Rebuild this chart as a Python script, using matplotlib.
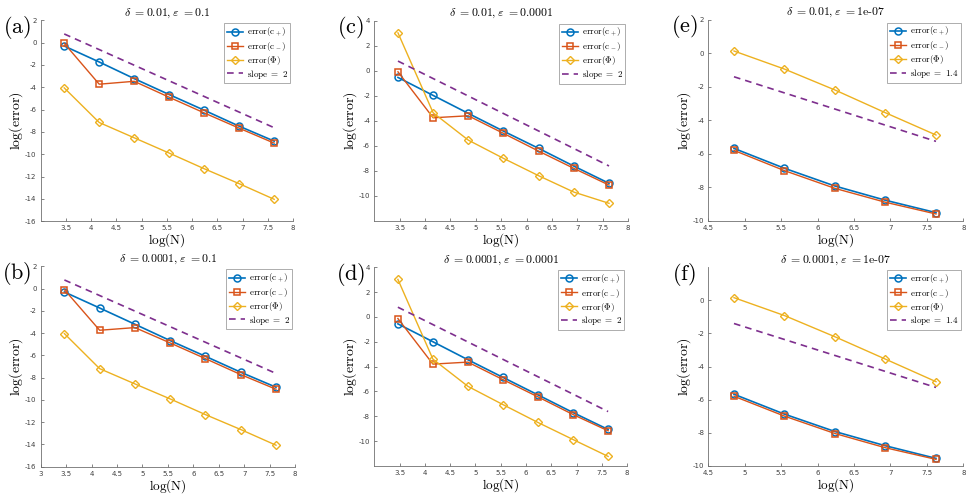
import matplotlib
matplotlib.use("Agg")
from matplotlib import pyplot as plt
import numpy as np

plt.rcParams['mathtext.fontset'] = 'cm'
plt.rcParams['font.family'] = 'DejaVu Sans'

# log(N) for N = 32 ... 2048 and N = 128 ... 2048
logN_full = [3.466, 4.159, 4.852, 5.545, 6.238, 6.931, 7.625]
logN_short = [4.852, 5.545, 6.238, 6.931, 7.625]

# panel (a): delta=0.01, eps=0.1
a_cplus = [-0.30, -1.73, -3.22, -4.65, -6.05, -7.48, -8.82]
a_cminus = [-0.06, -3.72, -3.46, -4.89, -6.29, -7.66, -9.00]
a_phi = [-4.05, -7.15, -8.52, -9.89, -11.29, -12.63, -14.03]

# panel (b): delta=0.0001, eps=0.1
b_cplus = [-0.30, -1.74, -3.20, -4.67, -6.08, -7.51, -8.86]
b_cminus = [-0.09, -3.74, -3.50, -4.88, -6.29, -7.72, -9.04]
b_phi = [-4.04, -7.19, -8.56, -9.91, -11.32, -12.66, -14.07]

# panel (c): delta=0.01, eps=0.0001
c_cplus = [-0.53, -1.97, -3.41, -4.83, -6.21, -7.63, -9.01]
c_cminus = [-0.08, -3.76, -3.60, -5.01, -6.43, -7.81, -9.15]
c_phi = [3.04, -3.36, -5.55, -7.01, -8.40, -9.71, -10.61]

# panel (d): delta=0.0001, eps=0.0001
d_cplus = [-0.56, -2.00, -3.45, -4.87, -6.28, -7.70, -9.06]
d_cminus = [-0.13, -3.80, -3.64, -5.05, -6.44, -7.86, -9.17]
d_phi = [3.02, -3.40, -5.59, -7.06, -8.50, -9.87, -11.23]

# panel (e): delta=0.01, eps=1e-07
e_cplus = [-5.68, -6.87, -7.93, -8.78, -9.52]
e_cminus = [-5.80, -7.01, -8.07, -8.90, -9.60]
e_phi = [0.14, -0.94, -2.19, -3.55, -4.88]

# panel (f): delta=0.0001, eps=1e-07
f_cplus = [-5.67, -6.87, -7.92, -8.78, -9.54]
f_cminus = [-5.79, -6.99, -8.04, -8.90, -9.60]
f_phi = [0.16, -0.92, -2.20, -3.55, -4.91]

# reference slope lines (end points)
slope2_x = [3.466, 7.625]
slope2_y = [0.78, -7.62]
slope14_x = [4.852, 7.625]
slope14_y = [-1.40, -5.26]

panels = [
    # letter, title, x, cplus, cminus, phi, slope x, slope y, slope label, xlim, xticks, ylim, yticks, rect
    ('(a)', r'$\delta\ {=}0.01, \varepsilon\ {=}0.1$', logN_full, a_cplus, a_cminus, a_phi,
     slope2_x, slope2_y, '2', (3, 8), np.arange(3.5, 8.01, 0.5), (-16, 2), np.arange(-16, 2.1, 2),
     [0.0419, 0.5547, 0.260, 0.4044]),
    ('(b)', r'$\delta\ {=}0.0001, \varepsilon\ {=}0.1$', logN_full, b_cplus, b_cminus, b_phi,
     slope2_x, slope2_y, '2', (3, 8), np.arange(3, 8.01, 0.5), (-16, 2), np.arange(-16, 2.1, 2),
     [0.0419, 0.0610, 0.262, 0.4030]),
    ('(c)', r'$\delta\ {=}0.01, \varepsilon\ {=}0.0001$', logN_full, c_cplus, c_cminus, c_phi,
     slope2_x, slope2_y, '2', (3, 8), np.arange(3.5, 8.01, 0.5), (-12, 4), np.arange(-10, 4.1, 2),
     [0.3855, 0.5560, 0.2613, 0.4020]),
    ('(d)', r'$\delta\ {=}0.0001, \varepsilon\ {=}0.0001$', logN_full, d_cplus, d_cminus, d_phi,
     slope2_x, slope2_y, '2', (3, 8), np.arange(3.5, 8.01, 0.5), (-12, 4), np.arange(-10, 4.1, 2),
     [0.3855, 0.0624, 0.2603, 0.4000]),
    ('(e)', r'$\delta\ {=}0.01, \varepsilon\ {=}\mathrm{1e\text{-}07}$', logN_short, e_cplus, e_cminus, e_phi,
     slope14_x, slope14_y, '1.4', (4.5, 8), np.arange(4.5, 8.01, 0.5), (-10, 2), np.arange(-10, 2.1, 2),
     [0.7295, 0.5560, 0.2626, 0.4040]),
    ('(f)', r'$\delta\ {=}0.0001, \varepsilon\ {=}\mathrm{1e\text{-}07}$', logN_short, f_cplus, f_cminus, f_phi,
     slope14_x, slope14_y, '1.4', (4.5, 8), np.arange(4.5, 8.01, 0.5), (-10, 2), np.arange(-10, 0.1, 2),
     [0.7295, 0.0624, 0.2626, 0.4000]),
]

blue = '#0072BD'
orange = '#D95319'
yellow = '#EDB120'
purple = '#7E2F8E'
axis_gray = '#707070'

fig = plt.figure(figsize=(9.71, 4.97), dpi=100)

for (letter, title, x, cp, cm, phi, sx, sy, slab, xlim, xticks, ylim, yticks, rect) in panels:
    ax = fig.add_axes(rect)
    ax.plot(x, cp, '-o', color=blue, lw=1.2, ms=5, mfc='none', mew=1.1, label=r'$\mathrm{error(c_+)}$')
    ax.plot(x, cm, '-s', color=orange, lw=1.0, ms=4.5, mfc='none', mew=1.1, label=r'$\mathrm{error(c_-)}$')
    ax.plot(x, phi, '-D', color=yellow, lw=1.0, ms=4.5, mfc='none', mew=1.0, label=r'$\mathrm{error(\Phi)}$')
    ax.plot(sx, sy, '--', color=purple, lw=1.2, dashes=(4, 3), label=r'$\mathrm{slope\ =\ ' + slab + '}$')

    ax.set_xlim(*xlim)
    ax.set_ylim(*ylim)
    ax.set_xticks(xticks)
    ax.set_yticks(yticks)
    ax.set_xticklabels([f'{t:g}' for t in xticks])
    ax.set_yticklabels([f'{t:g}' for t in yticks])
    ax.tick_params(direction='in', length=2.5, width=0.6, labelsize=5, colors='#404040',
                   color=axis_gray, pad=3)
    for side in ['top', 'right']:
        ax.spines[side].set_visible(False)
    for side in ['left', 'bottom']:
        ax.spines[side].set_color(axis_gray)
        ax.spines[side].set_linewidth(0.6)

    ax.set_title(title, fontsize=8.5, pad=3.5)
    ax.set_xlabel(r'$\mathrm{log(N)}$', fontsize=9.5, labelpad=0)
    ax.set_ylabel(r'$\mathrm{log(error)}$', fontsize=10, labelpad=0)

    leg = ax.legend(loc='upper right', fontsize=6.5, handlelength=1.8, borderpad=0.3,
                    labelspacing=0.1, handletextpad=0.4, fancybox=False, framealpha=1,
                    borderaxespad=0.3)
    leg.get_frame().set_edgecolor('#a0a0a0')
    leg.get_frame().set_linewidth(0.6)

    ax.text(-0.094, 0.965, r'$\mathrm{' + letter + '}$', transform=ax.transAxes, fontsize=16,
            ha='center', va='center')

fig.savefig('out.png', dpi=100)
